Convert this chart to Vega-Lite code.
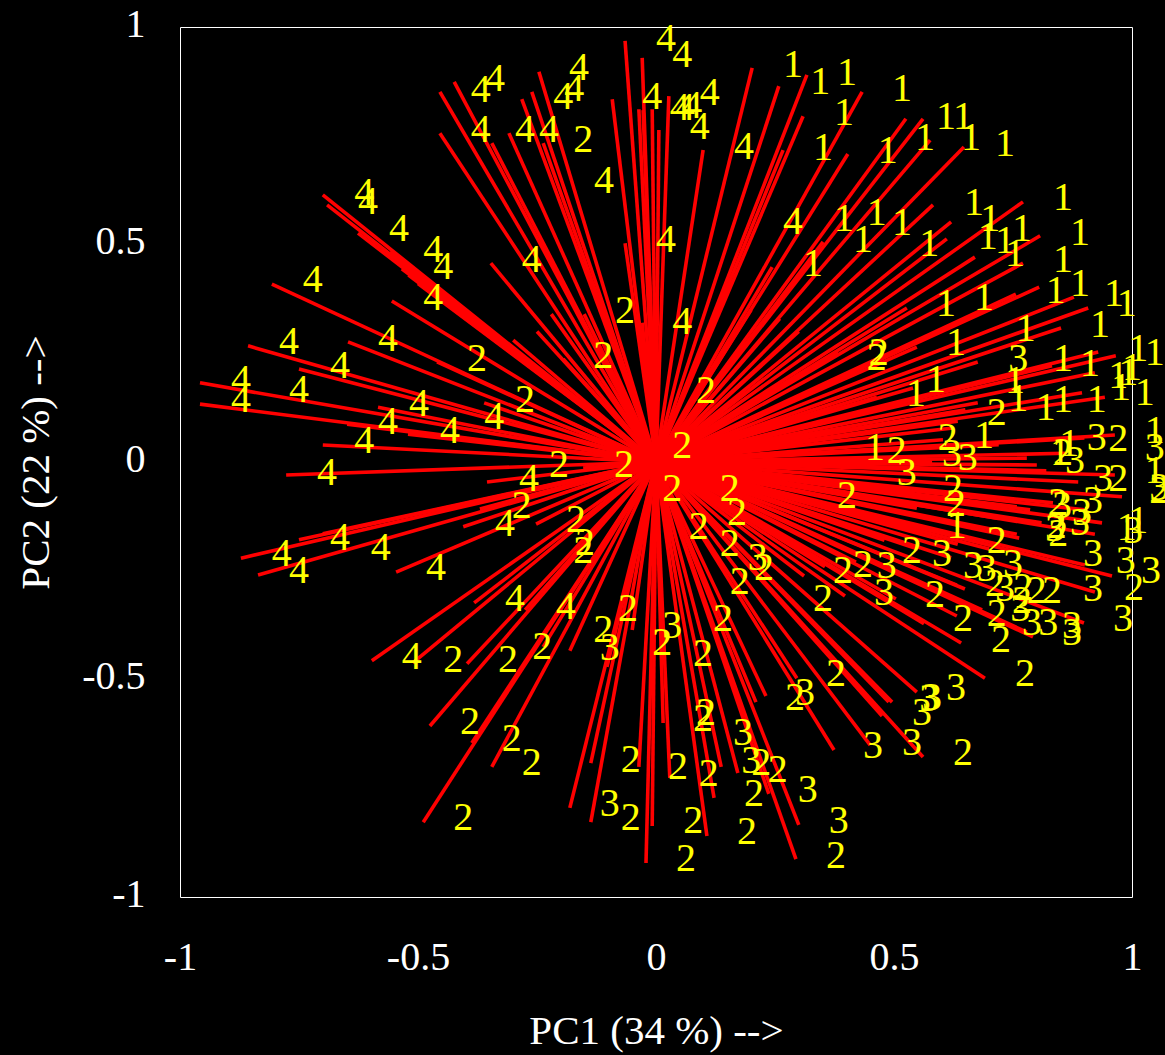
{"$schema":"https://vega.github.io/schema/vega-lite/v6.json","width":952,"height":870,"autosize":"none","padding":{"left":180,"top":27,"right":33,"bottom":158},"background":"black","view":{"stroke":"white","strokeWidth":1,"fill":"black"},
"datasets":{"vectors":[{"a":-0.065,"b":0.968},{"a":-0.029,"b":0.929},{"a":0.006,"b":0.763},{"a":-0.092,"b":0.834},{"a":-0.036,"b":0.811},{"a":-0.008,"b":0.811},{"a":-0.027,"b":0.809},{"a":-0.246,"b":0.897},{"a":-0.261,"b":0.851},{"a":-0.282,"b":0.834},{"a":-0.424,"b":0.874},{"a":-0.454,"b":0.851},{"a":-0.454,"b":0.756},{"a":-0.309,"b":0.756},{"a":-0.237,"b":0.733},{"a":-0.345,"b":0.733},{"a":-0.065,"b":0.503},{"a":-0.347,"b":0.457},{"a":-0.7,"b":0.614},{"a":-0.691,"b":0.591},{"a":-0.626,"b":0.526},{"a":-0.559,"b":0.483},{"a":-0.534,"b":0.444},{"a":-0.52,"b":0.43},{"a":-0.5,"b":0.41},{"a":-0.555,"b":0.37},{"a":-0.807,"b":0.409},{"a":-0.151,"b":0.34},{"a":-0.195,"b":0.237},{"a":-0.46,"b":0.23},{"a":-0.647,"b":0.276},{"a":-0.857,"b":0.267},{"a":-0.75,"b":0.214},{"a":-0.958,"b":0.182},{"a":-0.958,"b":0.133},{"a":-0.584,"b":0.126},{"a":-0.361,"b":0.136},{"a":-0.649,"b":0.087},{"a":-0.521,"b":0.064},{"a":-0.7,"b":0.039},{"a":-0.029,"b":0.32},{"a":-0.777,"b":-0.03},{"a":-0.355,"b":-0.046},{"a":-0.153,"b":-0.014},{"a":-0.872,"b":-0.221},{"a":-0.836,"b":-0.26},{"a":-0.75,"b":-0.179},{"a":-0.7,"b":-0.165},{"a":-0.546,"b":-0.253},{"a":-0.405,"b":-0.149},{"a":-0.37,"b":-0.108},{"a":-0.252,"b":-0.143},{"a":-0.597,"b":-0.457},{"a":-0.511,"b":-0.462},{"a":-0.382,"b":-0.324},{"a":-0.397,"b":-0.464},{"a":-0.275,"b":-0.34},{"a":-0.475,"b":-0.607},{"a":-0.387,"b":-0.646},{"a":-0.345,"b":-0.701},{"a":-0.489,"b":-0.828},{"a":-0.181,"b":-0.434},{"a":-0.181,"b":-0.795},{"a":-0.137,"b":-0.692},{"a":-0.137,"b":-0.828},{"a":-0.05,"b":-0.386},{"a":-0.103,"b":-0.471},{"a":-0.036,"b":-0.701},{"a":-0.008,"b":-0.837},{"a":-0.021,"b":-0.922},{"a":-0.237,"b":-0.425},{"a":0.015,"b":-0.6},{"a":0.029,"b":-0.726},{"a":0.107,"b":-0.86},{"a":0.122,"b":-0.772},{"a":0.137,"b":-0.701},{"a":0.172,"b":-0.715},{"a":0.237,"b":-0.763},{"a":0.294,"b":-0.913},{"a":0.3,"b":-0.834},{"a":0.231,"b":-0.538},{"a":0.21,"b":-0.552},{"a":0.296,"b":-0.497},{"a":0.374,"b":-0.662},{"a":0.45,"b":-0.651},{"a":0.475,"b":-0.584},{"a":0.561,"b":-0.678},{"a":0.489,"b":-0.552},{"a":0.496,"b":-0.552},{"a":0.548,"b":-0.529},{"a":0.691,"b":-0.497},{"a":0.641,"b":-0.416},{"a":0.563,"b":-0.372},{"a":0.311,"b":-0.262},{"a":0.397,"b":-0.308},{"a":0.504,"b":-0.315},{"a":0.355,"b":-0.241},{"a":0.632,"b":-0.354},{"a":0.649,"b":-0.292},{"a":0.792,"b":-0.402},{"a":0.779,"b":-0.391},{"a":0.899,"b":-0.37},{"a":0.922,"b":-0.299},{"a":0.958,"b":-0.262},{"a":0.901,"b":-0.237},{"a":0.763,"b":-0.175},{"a":0.758,"b":-0.166},{"a":0.634,"b":-0.189},{"a":0.922,"b":-0.166},{"a":0.937,"b":-0.14},{"a":0.834,"b":-0.094},{"a":0.786,"b":-0.11},{"a":0.548,"b":-0.106},{"a":0.758,"b":-0.103},{"a":0.979,"b":-0.08},{"a":0.887,"b":-0.046},{"a":0.964,"b":-0.03},{"a":0.8,"b":-0.007},{"a":0.779,"b":0.009},{"a":0.58,"b":0},{"a":0.544,"b":-0.069},{"a":0.685,"b":-0.34},{"a":0.632,"b":-0.283},{"a":0.202,"b":0.906},{"a":0.258,"b":0.864},{"a":0.317,"b":0.89},{"a":0.309,"b":0.795},{"a":0.433,"b":0.851},{"a":0.267,"b":0.717},{"a":0.099,"b":0.717},{"a":0.027,"b":0.841},{"a":0.403,"b":0.708},{"a":0.525,"b":0.789},{"a":0.561,"b":0.789},{"a":0.576,"b":0.74},{"a":0.647,"b":0.724},{"a":0.582,"b":0.591},{"a":0.62,"b":0.552},{"a":0.611,"b":0.513},{"a":0.771,"b":0.598},{"a":0.807,"b":0.52},{"a":0.67,"b":0.471},{"a":0.771,"b":0.457},{"a":0.805,"b":0.402},{"a":0.756,"b":0.386},{"a":0.878,"b":0.379},{"a":0.908,"b":0.354},{"a":0.851,"b":0.308},{"a":0.527,"b":0.354},{"a":0.676,"b":0.23},{"a":0.929,"b":0.253},{"a":0.966,"b":0.244},{"a":0.922,"b":0.205},{"a":0.895,"b":0.159},{"a":0.943,"b":0.149},{"a":0.676,"b":0.136},{"a":0.964,"b":0.062},{"a":0.624,"b":0.078},{"a":0.603,"b":0.051},{"a":0.244,"b":0.448},{"a":0.351,"b":0.506},{"a":0.382,"b":0.253},{"a":0.548,"b":0.264},{"a":0.464,"b":0.149},{"a":0.634,"b":0.094},{"a":0.832,"b":0.221},{"a":0.9,"b":0.055},{"a":0.86,"b":0.02},{"a":0.82,"b":-0.02},{"a":0.9,"b":-0.11},{"a":0.81,"b":-0.14},{"a":0.72,"b":-0.13},{"a":0.7,"b":-0.2},{"a":0.62,"b":-0.22},{"a":0.55,"b":-0.2},{"a":0.48,"b":-0.18},{"a":0.42,"b":-0.23},{"a":0.72,"b":0.04},{"a":0.65,"b":0.12},{"a":0.54,"b":0.17},{"a":0.42,"b":0.21},{"a":0.3,"b":0.3},{"a":0.26,"b":0.33},{"a":0.2,"b":0.35},{"a":-0.25,"b":0.3},{"a":-0.3,"b":0.28},{"a":-0.22,"b":0.34}],
"labels":[{"t":"4","a":-0.368,"b":0.857},{"t":"4","a":-0.338,"b":0.883},{"t":"4","a":-0.162,"b":0.908},{"t":"4","a":-0.195,"b":0.841},{"t":"4","a":-0.172,"b":0.86},{"t":"4","a":-0.008,"b":0.841},{"t":"4","a":-0.368,"b":0.766},{"t":"4","a":-0.275,"b":0.766},{"t":"4","a":-0.225,"b":0.766},{"t":"4","a":-0.109,"b":0.648},{"t":"4","a":-0.613,"b":0.621},{"t":"4","a":-0.605,"b":0.6},{"t":"4","a":-0.54,"b":0.538},{"t":"4","a":-0.468,"b":0.49},{"t":"4","a":-0.447,"b":0.451},{"t":"4","a":-0.261,"b":0.467},{"t":"4","a":-0.721,"b":0.421},{"t":"4","a":-0.468,"b":0.379},{"t":"4","a":-0.771,"b":0.278},{"t":"4","a":-0.563,"b":0.285},{"t":"4","a":-0.664,"b":0.223},{"t":"4","a":-0.872,"b":0.191},{"t":"4","a":-0.872,"b":0.145},{"t":"4","a":-0.75,"b":0.168},{"t":"4","a":-0.498,"b":0.136},{"t":"4","a":-0.563,"b":0.094},{"t":"4","a":-0.34,"b":0.106},{"t":"4","a":-0.433,"b":0.074},{"t":"4","a":-0.613,"b":0.051},{"t":"4","a":-0.691,"b":-0.023},{"t":"4","a":-0.267,"b":-0.037},{"t":"4","a":-0.317,"b":-0.14},{"t":"4","a":-0.664,"b":-0.172},{"t":"4","a":-0.786,"b":-0.209},{"t":"4","a":-0.75,"b":-0.248},{"t":"4","a":-0.578,"b":-0.195},{"t":"4","a":-0.462,"b":-0.241},{"t":"4","a":-0.296,"b":-0.313},{"t":"4","a":-0.189,"b":-0.331},{"t":"4","a":-0.513,"b":-0.446},{"t":"4","a":0.021,"b":0.975},{"t":"4","a":0.055,"b":0.938},{"t":"4","a":0.113,"b":0.851},{"t":"4","a":0.05,"b":0.816},{"t":"4","a":0.061,"b":0.816},{"t":"4","a":0.076,"b":0.821},{"t":"4","a":0.092,"b":0.772},{"t":"4","a":0.185,"b":0.726},{"t":"4","a":0.288,"b":0.554},{"t":"4","a":0.021,"b":0.513},{"t":"4","a":0.055,"b":0.324},
{"t":"2","a":-0.153,"b":0.743},{"t":"2","a":-0.065,"b":0.349},{"t":"2","a":-0.111,"b":0.246},{"t":"2","a":-0.376,"b":0.239},{"t":"2","a":-0.275,"b":0.145},{"t":"2","a":-0.204,"b":-0.005},{"t":"2","a":-0.067,"b":-0.005},{"t":"2","a":-0.282,"b":-0.099},{"t":"2","a":-0.168,"b":-0.131},{"t":"2","a":-0.149,"b":-0.184},{"t":"2","a":-0.153,"b":-0.202},{"t":"2","a":-0.059,"b":-0.336},{"t":"2","a":-0.111,"b":-0.384},{"t":"2","a":-0.239,"b":-0.423},{"t":"2","a":-0.311,"b":-0.453},{"t":"2","a":-0.426,"b":-0.453},{"t":"2","a":-0.391,"b":-0.595},{"t":"2","a":-0.303,"b":-0.634},{"t":"2","a":-0.261,"b":-0.69},{"t":"2","a":-0.405,"b":-0.816},{"t":"2","a":-0.053,"b":-0.683},{"t":"2","a":-0.053,"b":-0.816},{"t":"2","a":0.013,"b":-0.414},{"t":"2","a":0.034,"b":-0.06},{"t":"2","a":0.155,"b":-0.06},{"t":"2","a":0.17,"b":-0.115},{"t":"2","a":0.09,"b":-0.147},{"t":"2","a":0.155,"b":-0.186},{"t":"2","a":0.227,"b":-0.241},{"t":"2","a":0.176,"b":-0.274},{"t":"2","a":0.351,"b":-0.313},{"t":"2","a":0.401,"b":-0.076},{"t":"2","a":0.141,"b":-0.359},{"t":"2","a":0.099,"b":-0.439},{"t":"2","a":0.378,"b":-0.485},{"t":"2","a":0.292,"b":-0.54},{"t":"2","a":0.105,"b":-0.575},{"t":"2","a":0.099,"b":-0.589},{"t":"2","a":0.046,"b":-0.699},{"t":"2","a":0.111,"b":-0.715},{"t":"2","a":0.221,"b":-0.69},{"t":"2","a":0.256,"b":-0.706},{"t":"2","a":0.206,"b":-0.761},{"t":"2","a":0.078,"b":-0.823},{"t":"2","a":0.191,"b":-0.848},{"t":"2","a":0.063,"b":-0.91},{"t":"2","a":0.378,"b":-0.903},{"t":"2","a":0.645,"b":-0.667},{"t":"2","a":0.775,"b":-0.485},{"t":"2","a":0.725,"b":-0.407},{"t":"2","a":0.645,"b":-0.359},{"t":"2","a":0.716,"b":-0.347},{"t":"2","a":0.586,"b":-0.303},{"t":"2","a":0.538,"b":-0.202},{"t":"2","a":0.393,"b":-0.248},{"t":"2","a":0.435,"b":-0.234},{"t":"2","a":0.716,"b":-0.179},{"t":"2","a":0.624,"b":-0.06},{"t":"2","a":0.63,"b":-0.094},{"t":"2","a":0.845,"b":-0.092},{"t":"2","a":0.845,"b":-0.163},{"t":"2","a":0.842,"b":-0.145},{"t":"2","a":0.971,"b":-0.037},{"t":"2","a":1.004,"b":-0.287},{"t":"2","a":0.712,"b":-0.278},{"t":"2","a":0.771,"b":-0.287},{"t":"2","a":0.8,"b":-0.294},{"t":"2","a":0.832,"b":-0.294},{"t":"2","a":0.769,"b":-0.317},{"t":"2","a":0.464,"b":0.241},{"t":"2","a":0.468,"b":0.253},{"t":"2","a":0.105,"b":0.166},{"t":"2","a":0.055,"b":0.039},{"t":"2","a":0.613,"b":0.057},{"t":"2","a":0.716,"b":0.115},{"t":"2","a":0.506,"b":0.028},{"t":"2","a":0.855,"b":0.023},{"t":"2","a":0.971,"b":0.055},{"t":"2","a":1.057,"b":-0.064},
{"t":"3","a":-0.097,"b":-0.425},{"t":"3","a":-0.097,"b":-0.784},{"t":"3","a":0.034,"b":-0.375},{"t":"3","a":0.527,"b":-0.023},{"t":"3","a":0.622,"b":0.021},{"t":"3","a":0.655,"b":0.011},{"t":"3","a":0.214,"b":-0.218},{"t":"3","a":0.485,"b":-0.237},{"t":"3","a":0.479,"b":-0.299},{"t":"3","a":0.601,"b":-0.209},{"t":"3","a":0.666,"b":-0.237},{"t":"3","a":0.695,"b":-0.244},{"t":"3","a":0.75,"b":-0.232},{"t":"3","a":0.733,"b":-0.29},{"t":"3","a":0.79,"b":-0.368},{"t":"3","a":0.824,"b":-0.368},{"t":"3","a":0.874,"b":-0.375},{"t":"3","a":0.874,"b":-0.391},{"t":"3","a":0.765,"b":-0.336},{"t":"3","a":0.981,"b":-0.359},{"t":"3","a":0.918,"b":-0.209},{"t":"3","a":0.918,"b":-0.29},{"t":"3","a":0.987,"b":-0.225},{"t":"3","a":1.04,"b":-0.248},{"t":"3","a":0.918,"b":-0.087},{"t":"3","a":0.895,"b":-0.115},{"t":"3","a":0.891,"b":-0.138},{"t":"3","a":0.853,"b":-0.099},{"t":"3","a":0.838,"b":-0.152},{"t":"3","a":0.939,"b":-0.037},{"t":"3","a":0.313,"b":-0.529},{"t":"3","a":0.63,"b":-0.517},{"t":"3","a":0.58,"b":-0.54},{"t":"3","a":0.574,"b":-0.543},{"t":"3","a":0.559,"b":-0.575},{"t":"3","a":0.456,"b":-0.651},{"t":"3","a":0.538,"b":-0.644},{"t":"3","a":0.183,"b":-0.621},{"t":"3","a":0.2,"b":-0.685},{"t":"3","a":0.319,"b":-0.752},{"t":"3","a":0.384,"b":-0.823},{"t":"3","a":0.761,"b":0.239},{"t":"3","a":0.926,"b":0.057},{"t":"3","a":1.048,"b":0.034},{"t":"3","a":0.88,"b":0.005},{"t":"3","a":1.002,"b":-0.156},{"t":"3","a":1.057,"b":-0.057},
{"t":"1","a":0.288,"b":0.915},{"t":"1","a":0.345,"b":0.876},{"t":"1","a":0.401,"b":0.897},{"t":"1","a":0.517,"b":0.86},{"t":"1","a":0.395,"b":0.805},{"t":"1","a":0.609,"b":0.795},{"t":"1","a":0.645,"b":0.795},{"t":"1","a":0.351,"b":0.724},{"t":"1","a":0.487,"b":0.717},{"t":"1","a":0.565,"b":0.747},{"t":"1","a":0.662,"b":0.747},{"t":"1","a":0.733,"b":0.733},{"t":"1","a":0.668,"b":0.598},{"t":"1","a":0.702,"b":0.561},{"t":"1","a":0.855,"b":0.609},{"t":"1","a":0.891,"b":0.529},{"t":"1","a":0.769,"b":0.538},{"t":"1","a":0.697,"b":0.52},{"t":"1","a":0.733,"b":0.51},{"t":"1","a":0.754,"b":0.48},{"t":"1","a":0.855,"b":0.467},{"t":"1","a":0.395,"b":0.561},{"t":"1","a":0.464,"b":0.575},{"t":"1","a":0.517,"b":0.552},{"t":"1","a":0.435,"b":0.513},{"t":"1","a":0.574,"b":0.503},{"t":"1","a":0.33,"b":0.457},{"t":"1","a":0.84,"b":0.395},{"t":"1","a":0.891,"b":0.412},{"t":"1","a":0.962,"b":0.389},{"t":"1","a":0.989,"b":0.366},{"t":"1","a":0.933,"b":0.317},{"t":"1","a":0.609,"b":0.366},{"t":"1","a":0.689,"b":0.379},{"t":"1","a":0.777,"b":0.308},{"t":"1","a":0.63,"b":0.276},{"t":"1","a":1.013,"b":0.262},{"t":"1","a":1.048,"b":0.253},{"t":"1","a":0.971,"b":0.2},{"t":"1","a":1.0,"b":0.218},{"t":"1","a":0.992,"b":0.207},{"t":"1","a":0.977,"b":0.172},{"t":"1","a":1.027,"b":0.161},{"t":"1","a":0.855,"b":0.239},{"t":"1","a":0.912,"b":0.228},{"t":"1","a":0.588,"b":0.191},{"t":"1","a":0.546,"b":0.159},{"t":"1","a":0.754,"b":0.189},{"t":"1","a":0.761,"b":0.147},{"t":"1","a":0.819,"b":0.126},{"t":"1","a":0.855,"b":0.145},{"t":"1","a":0.926,"b":0.145},{"t":"1","a":0.689,"b":0.062},{"t":"1","a":1.048,"b":0.074},{"t":"1","a":0.868,"b":0.044},{"t":"1","a":0.46,"b":0.034},{"t":"1","a":1.048,"b":-0.018},{"t":"1","a":0.632,"b":-0.145},{"t":"1","a":0.989,"b":-0.149},{"t":"1","a":1.013,"b":-0.133},{"t":"1","a":0.849,"b":0.023}]},
"layer":[
{"data":{"name":"vectors"},"mark":{"type":"rule","color":"#ff0000","strokeWidth":3.6,"clip":false},"encoding":{"x":{"field":"a","type":"quantitative","scale":{"domain":[-1,1],"nice":false,"zero":false},"axis":{"values":[-1,-0.5,0,0.5,1],"labelExpr":"'' + datum.value","grid":false,"domain":false,"ticks":false,"labelFlush":false,"labelOverlap":false,"labelFont":"Liberation Serif","labelFontSize":40,"labelColor":"white","labelPadding":60,"labelBaseline":"middle","title":"PC1 (34 %) -->","titleFont":"Liberation Serif","titleFontSize":41,"titleFontWeight":"normal","titleColor":"white","titlePadding":34}},"y":{"field":"b","type":"quantitative","scale":{"domain":[-1,1],"nice":false,"zero":false},"axis":{"values":[-1,-0.5,0,0.5,1],"labelExpr":"'' + datum.value","grid":false,"domain":false,"ticks":false,"labelFlush":false,"labelOverlap":false,"labelFont":"Liberation Serif","labelFontSize":40,"labelColor":"white","labelPadding":35,"labelOffset":-3,"title":"PC2 (22 %) -->","titleFont":"Liberation Serif","titleFontSize":41,"titleFontWeight":"normal","titleColor":"white","titlePadding":24}},"x2":{"datum":0},"y2":{"datum":0}}},
{"data":{"name":"labels"},"mark":{"type":"text","color":"#ffff00","font":"Liberation Serif","fontSize":40,"align":"center","baseline":"middle","dy":1,"clip":false},"encoding":{"x":{"field":"a","type":"quantitative"},"y":{"field":"b","type":"quantitative"},"text":{"field":"t","type":"nominal"}}}
]}
